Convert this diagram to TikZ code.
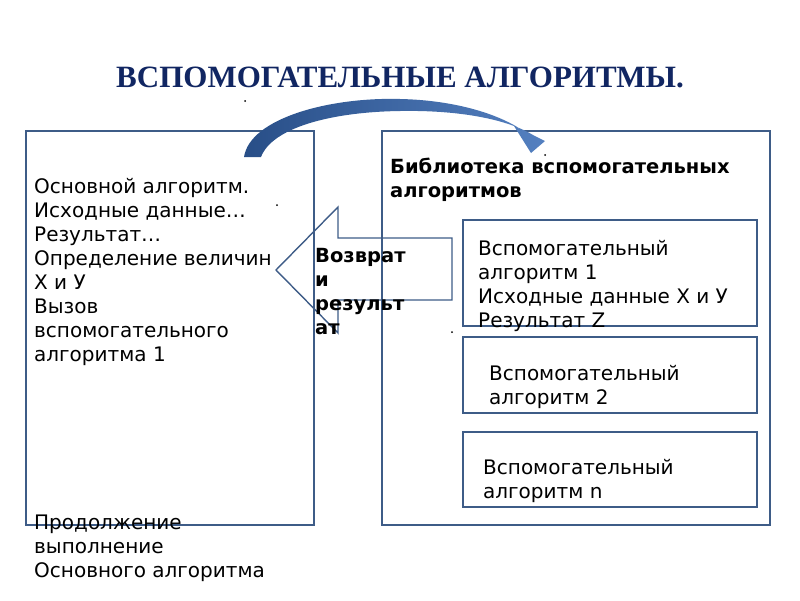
\documentclass[tikz,border=0pt]{standalone}
\usepackage{fontspec}
\setmainfont{DejaVu Sans}
\newfontfamily\titlefont{Liberation Serif}
\usetikzlibrary{positioning}

\definecolor{frameblue}{RGB}{62,92,135}
\definecolor{titleblue}{RGB}{17,38,98}
\definecolor{arcdark}{RGB}{40,78,135}
\definecolor{arclight}{RGB}{84,128,192}

\begin{document}
\begin{tikzpicture}[x=1pt,y=-1pt,
frame/.style={draw=frameblue, line width=1.8pt, minimum width=#1},
helper/.style={frame=294, minimum height=#1},
body/.style={inner sep=0pt, align=left, font=\fontsize{20}{24}\selectfont},
heading/.style={inner sep=0pt, align=left, font=\fontsize{19.5}{24}\selectfont\bfseries}
]
\useasboundingbox (0,0) rectangle (800,600);

\node[font=\titlefont\fontsize{31}{34}\selectfont\bfseries, text=titleblue] (title) at (400,77) {ВСПОМОГАТЕЛЬНЫЕ АЛГОРИТМЫ.};

\node[frame=288, minimum height=394] (main_box) at (170,328) {};
\node[frame=388, minimum height=394] (library_box) at (576,328) {};

\node[helper=106] (helper_one) at (610,273) {};
\node[helper=76] (helper_two) at (610,375) {};
\node[helper=75] (helper_n) at (610,469.5) {};

% curved arrow from the main algorithm to the library
\shade[left color=arcdark, right color=arclight]
  (244,157) .. controls (250,118) and (330,97) .. (400,99)
  .. controls (450,100) and (495,112) .. (522,130)
  -- (514,126) -- (531,153) -- (545,141) -- (533,135)
  .. controls (505,118) and (455,110) .. (400,111)
  .. controls (330,112) and (272,128) .. (261,157) -- cycle;

% block arrow back
\draw[frameblue, line width=1.4pt]
  (276,270) -- (338,207) -- (338,238) -- (452,238) -- (452,300)
  -- (338,300) -- (338,333) -- cycle;

\node[body, anchor=base west] (main_text) at (34,361)
  {Основной алгоритм.\\Исходные данные…\\Результат…\\Определение величин\\Х и У\\Вызов\\вспомогательного\\алгоритма 1};
\node[body, anchor=base west] (continue_text) at (34,577)
  {Продолжение\\выполнение\\Основного алгоритма};

\node[heading, anchor=base west] (library_title) at (390,197)
  {Библиотека вспомогательных\\алгоритмов};
\node[heading, anchor=base west] (return_text) at (315,334)
  {Возврат\\и\\результ\\ат};

\node[body, anchor=base west] (helper_one_text) at (478,327)
  {Вспомогательный\\алгоритм 1\\Исходные данные Х и У\\Результат Z};
\node[body, anchor=base west] (helper_two_text) at (489,404)
  {Вспомогательный\\алгоритм 2};
\node[body, anchor=base west] (helper_n_text) at (483,498)
  {Вспомогательный\\алгоритм n};

% stray placeholder dots
\foreach \px/\py in {245/101, 277/205, 452/332, 545/155}
  \fill (\px,\py) circle (1);
\end{tikzpicture}
\end{document}
